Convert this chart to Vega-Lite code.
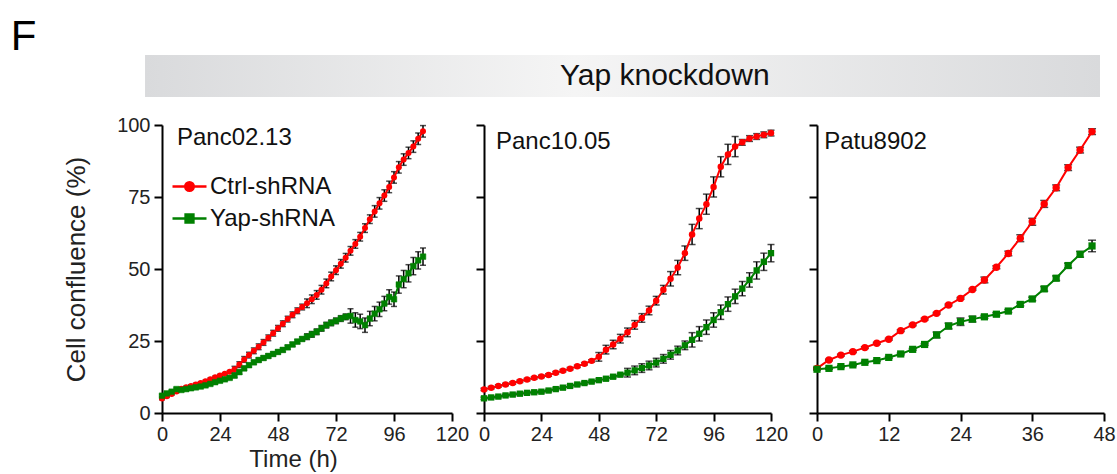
{
  "$schema": "https://vega.github.io/schema/vega-lite/v6.json",
  "background": "white",
  "padding": {"left": 10, "top": 16, "right": 2, "bottom": 1},
  "title": {"text": "F", "anchor": "start", "frame": "bounds", "fontSize": 42, "font": "Liberation Sans", "fontWeight": "normal", "color": "#000", "baseline": "alphabetic", "offset": -37, "dx": -53},
  "config": {
    "view": {"stroke": null},
    "font": "Liberation Sans",
    "axis": {"grid": false, "domainColor": "#000", "domainWidth": 2, "tickColor": "#000", "tickWidth": 2, "tickSize": 8, "labelFont": "Liberation Sans", "labelFontSize": 20, "labelColor": "#222", "labelFlush": false, "labelOverlap": false, "titleFont": "Liberation Sans", "titleFontSize": 26, "titleFontWeight": "normal", "titleColor": "#222"},
    "axisX": {"labelPadding": 3, "titlePadding": 3, "titleFontSize": 24},
    "axisY": {"labelPadding": 4, "titlePadding": 27}
  },
  "datasets": {
    "growth": [
      {"p":"A","g":"Ctrl-shRNA","t":0,"v":5.0,"e":0.4},{"p":"A","g":"Ctrl-shRNA","t":2,"v":5.8,"e":0.4},{"p":"A","g":"Ctrl-shRNA","t":4,"v":6.6,"e":0.4},{"p":"A","g":"Ctrl-shRNA","t":6,"v":7.5,"e":0.4},{"p":"A","g":"Ctrl-shRNA","t":8,"v":8.4,"e":0.4},{"p":"A","g":"Ctrl-shRNA","t":10,"v":8.9,"e":0.4},{"p":"A","g":"Ctrl-shRNA","t":12,"v":9.4,"e":0.4},{"p":"A","g":"Ctrl-shRNA","t":14,"v":9.9,"e":0.4},{"p":"A","g":"Ctrl-shRNA","t":16,"v":10.4,"e":0.4},{"p":"A","g":"Ctrl-shRNA","t":18,"v":11.0,"e":0.4},{"p":"A","g":"Ctrl-shRNA","t":20,"v":11.7,"e":0.4},{"p":"A","g":"Ctrl-shRNA","t":22,"v":12.4,"e":0.4},{"p":"A","g":"Ctrl-shRNA","t":24,"v":13.0,"e":0.4},{"p":"A","g":"Ctrl-shRNA","t":26,"v":13.6,"e":0.4},{"p":"A","g":"Ctrl-shRNA","t":28,"v":14.3,"e":0.4},{"p":"A","g":"Ctrl-shRNA","t":30,"v":15.2,"e":1},{"p":"A","g":"Ctrl-shRNA","t":32,"v":16.8,"e":1},{"p":"A","g":"Ctrl-shRNA","t":34,"v":18.6,"e":1},{"p":"A","g":"Ctrl-shRNA","t":36,"v":20.1,"e":1},{"p":"A","g":"Ctrl-shRNA","t":38,"v":21.6,"e":1},{"p":"A","g":"Ctrl-shRNA","t":40,"v":23.0,"e":1},{"p":"A","g":"Ctrl-shRNA","t":42,"v":24.5,"e":1},{"p":"A","g":"Ctrl-shRNA","t":44,"v":26.1,"e":1},{"p":"A","g":"Ctrl-shRNA","t":46,"v":27.7,"e":1},{"p":"A","g":"Ctrl-shRNA","t":48,"v":29.4,"e":1},{"p":"A","g":"Ctrl-shRNA","t":50,"v":31.0,"e":1},{"p":"A","g":"Ctrl-shRNA","t":52,"v":32.6,"e":1},{"p":"A","g":"Ctrl-shRNA","t":54,"v":34.1,"e":1},{"p":"A","g":"Ctrl-shRNA","t":56,"v":35.5,"e":1},{"p":"A","g":"Ctrl-shRNA","t":58,"v":36.8,"e":1},{"p":"A","g":"Ctrl-shRNA","t":60,"v":38.1,"e":1.5},{"p":"A","g":"Ctrl-shRNA","t":62,"v":39.5,"e":1.5},{"p":"A","g":"Ctrl-shRNA","t":64,"v":41.0,"e":1.5},{"p":"A","g":"Ctrl-shRNA","t":66,"v":42.8,"e":1.5},{"p":"A","g":"Ctrl-shRNA","t":68,"v":45.0,"e":1.5},{"p":"A","g":"Ctrl-shRNA","t":70,"v":47.4,"e":1.5},{"p":"A","g":"Ctrl-shRNA","t":72,"v":49.6,"e":1.5},{"p":"A","g":"Ctrl-shRNA","t":74,"v":51.8,"e":1.5},{"p":"A","g":"Ctrl-shRNA","t":76,"v":53.9,"e":1.5},{"p":"A","g":"Ctrl-shRNA","t":78,"v":56.3,"e":1.5},{"p":"A","g":"Ctrl-shRNA","t":80,"v":58.7,"e":1.5},{"p":"A","g":"Ctrl-shRNA","t":82,"v":61.2,"e":1.5},{"p":"A","g":"Ctrl-shRNA","t":84,"v":64.2,"e":1.5},{"p":"A","g":"Ctrl-shRNA","t":86,"v":67.3,"e":1.5},{"p":"A","g":"Ctrl-shRNA","t":88,"v":70.0,"e":2},{"p":"A","g":"Ctrl-shRNA","t":90,"v":72.8,"e":2},{"p":"A","g":"Ctrl-shRNA","t":92,"v":75.5,"e":2},{"p":"A","g":"Ctrl-shRNA","t":94,"v":78.5,"e":2},{"p":"A","g":"Ctrl-shRNA","t":96,"v":81.8,"e":2},{"p":"A","g":"Ctrl-shRNA","t":98,"v":85.3,"e":2},{"p":"A","g":"Ctrl-shRNA","t":100,"v":88.0,"e":2},{"p":"A","g":"Ctrl-shRNA","t":102,"v":90.3,"e":2},{"p":"A","g":"Ctrl-shRNA","t":104,"v":92.5,"e":2},{"p":"A","g":"Ctrl-shRNA","t":106,"v":95.2,"e":2},{"p":"A","g":"Ctrl-shRNA","t":108,"v":97.8,"e":2},
      {"p":"A","g":"Yap-shRNA","t":0,"v":6.0,"e":0.4},{"p":"A","g":"Yap-shRNA","t":2,"v":6.8,"e":0.4},{"p":"A","g":"Yap-shRNA","t":4,"v":7.4,"e":0.4},{"p":"A","g":"Yap-shRNA","t":6,"v":8.3,"e":0.4},{"p":"A","g":"Yap-shRNA","t":8,"v":8.0,"e":0.4},{"p":"A","g":"Yap-shRNA","t":10,"v":8.3,"e":0.4},{"p":"A","g":"Yap-shRNA","t":12,"v":8.6,"e":0.4},{"p":"A","g":"Yap-shRNA","t":14,"v":8.9,"e":0.4},{"p":"A","g":"Yap-shRNA","t":16,"v":9.2,"e":0.4},{"p":"A","g":"Yap-shRNA","t":18,"v":9.6,"e":0.4},{"p":"A","g":"Yap-shRNA","t":20,"v":10.1,"e":0.4},{"p":"A","g":"Yap-shRNA","t":22,"v":10.7,"e":0.4},{"p":"A","g":"Yap-shRNA","t":24,"v":11.2,"e":0.4},{"p":"A","g":"Yap-shRNA","t":26,"v":11.7,"e":0.4},{"p":"A","g":"Yap-shRNA","t":28,"v":12.2,"e":0.4},{"p":"A","g":"Yap-shRNA","t":30,"v":13.0,"e":0.7},{"p":"A","g":"Yap-shRNA","t":32,"v":14.2,"e":0.7},{"p":"A","g":"Yap-shRNA","t":34,"v":15.5,"e":0.7},{"p":"A","g":"Yap-shRNA","t":36,"v":16.6,"e":0.7},{"p":"A","g":"Yap-shRNA","t":38,"v":17.6,"e":0.7},{"p":"A","g":"Yap-shRNA","t":40,"v":18.4,"e":0.7},{"p":"A","g":"Yap-shRNA","t":42,"v":19.1,"e":0.7},{"p":"A","g":"Yap-shRNA","t":44,"v":19.8,"e":0.7},{"p":"A","g":"Yap-shRNA","t":46,"v":20.5,"e":0.7},{"p":"A","g":"Yap-shRNA","t":48,"v":21.2,"e":0.7},{"p":"A","g":"Yap-shRNA","t":50,"v":21.9,"e":0.7},{"p":"A","g":"Yap-shRNA","t":52,"v":22.8,"e":0.7},{"p":"A","g":"Yap-shRNA","t":54,"v":23.8,"e":0.7},{"p":"A","g":"Yap-shRNA","t":56,"v":24.8,"e":0.7},{"p":"A","g":"Yap-shRNA","t":58,"v":25.7,"e":0.7},{"p":"A","g":"Yap-shRNA","t":60,"v":26.5,"e":1},{"p":"A","g":"Yap-shRNA","t":62,"v":27.3,"e":1},{"p":"A","g":"Yap-shRNA","t":64,"v":28.2,"e":1},{"p":"A","g":"Yap-shRNA","t":66,"v":29.4,"e":1},{"p":"A","g":"Yap-shRNA","t":68,"v":30.5,"e":1},{"p":"A","g":"Yap-shRNA","t":70,"v":31.3,"e":1},{"p":"A","g":"Yap-shRNA","t":72,"v":32.0,"e":1},{"p":"A","g":"Yap-shRNA","t":74,"v":32.8,"e":1},{"p":"A","g":"Yap-shRNA","t":76,"v":33.4,"e":1},{"p":"A","g":"Yap-shRNA","t":78,"v":33.7,"e":2.5},{"p":"A","g":"Yap-shRNA","t":80,"v":32.3,"e":2.5},{"p":"A","g":"Yap-shRNA","t":82,"v":31.8,"e":2.5},{"p":"A","g":"Yap-shRNA","t":84,"v":30.5,"e":2.5},{"p":"A","g":"Yap-shRNA","t":86,"v":32.8,"e":2.5},{"p":"A","g":"Yap-shRNA","t":88,"v":34.5,"e":2.5},{"p":"A","g":"Yap-shRNA","t":90,"v":36.0,"e":2.5},{"p":"A","g":"Yap-shRNA","t":92,"v":38.0,"e":2.5},{"p":"A","g":"Yap-shRNA","t":94,"v":40.3,"e":2.5},{"p":"A","g":"Yap-shRNA","t":96,"v":39.5,"e":2.5},{"p":"A","g":"Yap-shRNA","t":98,"v":44.6,"e":3},{"p":"A","g":"Yap-shRNA","t":100,"v":46.5,"e":3},{"p":"A","g":"Yap-shRNA","t":102,"v":48.5,"e":3},{"p":"A","g":"Yap-shRNA","t":104,"v":51.0,"e":3},{"p":"A","g":"Yap-shRNA","t":106,"v":53.0,"e":3},{"p":"A","g":"Yap-shRNA","t":108,"v":54.3,"e":3},
      {"p":"B","g":"Ctrl-shRNA","t":0,"v":8.2,"e":0.4},{"p":"B","g":"Ctrl-shRNA","t":3,"v":8.8,"e":0.4},{"p":"B","g":"Ctrl-shRNA","t":6,"v":9.4,"e":0.4},{"p":"B","g":"Ctrl-shRNA","t":9,"v":9.9,"e":0.4},{"p":"B","g":"Ctrl-shRNA","t":12,"v":10.4,"e":0.4},{"p":"B","g":"Ctrl-shRNA","t":15,"v":11.0,"e":0.4},{"p":"B","g":"Ctrl-shRNA","t":18,"v":11.6,"e":0.4},{"p":"B","g":"Ctrl-shRNA","t":21,"v":12.2,"e":0.4},{"p":"B","g":"Ctrl-shRNA","t":24,"v":12.7,"e":0.4},{"p":"B","g":"Ctrl-shRNA","t":27,"v":13.2,"e":0.4},{"p":"B","g":"Ctrl-shRNA","t":30,"v":14.0,"e":0.4},{"p":"B","g":"Ctrl-shRNA","t":33,"v":14.7,"e":0.4},{"p":"B","g":"Ctrl-shRNA","t":36,"v":15.4,"e":0.4},{"p":"B","g":"Ctrl-shRNA","t":39,"v":16.2,"e":0.4},{"p":"B","g":"Ctrl-shRNA","t":42,"v":17.1,"e":0.4},{"p":"B","g":"Ctrl-shRNA","t":45,"v":18.1,"e":0.4},{"p":"B","g":"Ctrl-shRNA","t":48,"v":19.5,"e":1.5},{"p":"B","g":"Ctrl-shRNA","t":51,"v":22.0,"e":1.5},{"p":"B","g":"Ctrl-shRNA","t":54,"v":23.8,"e":1.5},{"p":"B","g":"Ctrl-shRNA","t":57,"v":25.8,"e":1.5},{"p":"B","g":"Ctrl-shRNA","t":60,"v":28.0,"e":1.5},{"p":"B","g":"Ctrl-shRNA","t":63,"v":30.6,"e":1.5},{"p":"B","g":"Ctrl-shRNA","t":66,"v":33.0,"e":1.5},{"p":"B","g":"Ctrl-shRNA","t":69,"v":35.6,"e":1.5},{"p":"B","g":"Ctrl-shRNA","t":72,"v":39.0,"e":1.5},{"p":"B","g":"Ctrl-shRNA","t":75,"v":42.8,"e":1.5},{"p":"B","g":"Ctrl-shRNA","t":78,"v":46.6,"e":2.5},{"p":"B","g":"Ctrl-shRNA","t":81,"v":50.5,"e":2.5},{"p":"B","g":"Ctrl-shRNA","t":84,"v":55.5,"e":2.5},{"p":"B","g":"Ctrl-shRNA","t":87,"v":62.0,"e":3.5},{"p":"B","g":"Ctrl-shRNA","t":90,"v":67.5,"e":3.5},{"p":"B","g":"Ctrl-shRNA","t":93,"v":72.5,"e":3.5},{"p":"B","g":"Ctrl-shRNA","t":96,"v":78.5,"e":3.5},{"p":"B","g":"Ctrl-shRNA","t":99,"v":85.5,"e":3.5},{"p":"B","g":"Ctrl-shRNA","t":102,"v":89.8,"e":3.5},{"p":"B","g":"Ctrl-shRNA","t":105,"v":92.5,"e":3.5},{"p":"B","g":"Ctrl-shRNA","t":108,"v":94.0,"e":1},{"p":"B","g":"Ctrl-shRNA","t":111,"v":95.3,"e":1},{"p":"B","g":"Ctrl-shRNA","t":114,"v":96.0,"e":1},{"p":"B","g":"Ctrl-shRNA","t":117,"v":96.6,"e":1},{"p":"B","g":"Ctrl-shRNA","t":120,"v":97.2,"e":1},
      {"p":"B","g":"Yap-shRNA","t":0,"v":5.1,"e":0.4},{"p":"B","g":"Yap-shRNA","t":3,"v":5.4,"e":0.4},{"p":"B","g":"Yap-shRNA","t":6,"v":5.7,"e":0.4},{"p":"B","g":"Yap-shRNA","t":9,"v":6.1,"e":0.4},{"p":"B","g":"Yap-shRNA","t":12,"v":6.4,"e":0.4},{"p":"B","g":"Yap-shRNA","t":15,"v":6.7,"e":0.4},{"p":"B","g":"Yap-shRNA","t":18,"v":7.0,"e":0.4},{"p":"B","g":"Yap-shRNA","t":21,"v":7.2,"e":0.4},{"p":"B","g":"Yap-shRNA","t":24,"v":7.4,"e":0.4},{"p":"B","g":"Yap-shRNA","t":27,"v":7.8,"e":0.4},{"p":"B","g":"Yap-shRNA","t":30,"v":8.3,"e":0.4},{"p":"B","g":"Yap-shRNA","t":33,"v":8.8,"e":0.4},{"p":"B","g":"Yap-shRNA","t":36,"v":9.4,"e":0.4},{"p":"B","g":"Yap-shRNA","t":39,"v":9.9,"e":0.4},{"p":"B","g":"Yap-shRNA","t":42,"v":10.4,"e":0.4},{"p":"B","g":"Yap-shRNA","t":45,"v":10.9,"e":0.4},{"p":"B","g":"Yap-shRNA","t":48,"v":11.4,"e":0.4},{"p":"B","g":"Yap-shRNA","t":51,"v":11.9,"e":0.4},{"p":"B","g":"Yap-shRNA","t":54,"v":12.6,"e":0.4},{"p":"B","g":"Yap-shRNA","t":57,"v":13.3,"e":0.4},{"p":"B","g":"Yap-shRNA","t":60,"v":14.0,"e":1.5},{"p":"B","g":"Yap-shRNA","t":63,"v":14.8,"e":1.5},{"p":"B","g":"Yap-shRNA","t":66,"v":15.6,"e":1.5},{"p":"B","g":"Yap-shRNA","t":69,"v":16.5,"e":1.5},{"p":"B","g":"Yap-shRNA","t":72,"v":17.5,"e":1.5},{"p":"B","g":"Yap-shRNA","t":75,"v":18.8,"e":1.5},{"p":"B","g":"Yap-shRNA","t":78,"v":20.2,"e":1.5},{"p":"B","g":"Yap-shRNA","t":81,"v":21.7,"e":1.5},{"p":"B","g":"Yap-shRNA","t":84,"v":23.5,"e":1.5},{"p":"B","g":"Yap-shRNA","t":87,"v":25.4,"e":2.5},{"p":"B","g":"Yap-shRNA","t":90,"v":27.5,"e":2.5},{"p":"B","g":"Yap-shRNA","t":93,"v":29.8,"e":2.5},{"p":"B","g":"Yap-shRNA","t":96,"v":32.3,"e":2.5},{"p":"B","g":"Yap-shRNA","t":99,"v":35.0,"e":2.5},{"p":"B","g":"Yap-shRNA","t":102,"v":37.8,"e":2.5},{"p":"B","g":"Yap-shRNA","t":105,"v":40.5,"e":2.5},{"p":"B","g":"Yap-shRNA","t":108,"v":43.2,"e":2.5},{"p":"B","g":"Yap-shRNA","t":111,"v":46.2,"e":2.5},{"p":"B","g":"Yap-shRNA","t":114,"v":49.5,"e":3},{"p":"B","g":"Yap-shRNA","t":117,"v":52.5,"e":3},{"p":"B","g":"Yap-shRNA","t":120,"v":55.5,"e":3},
      {"p":"C","g":"Ctrl-shRNA","t":0,"v":15.5,"e":0.3},{"p":"C","g":"Ctrl-shRNA","t":2,"v":18.4,"e":0.3},{"p":"C","g":"Ctrl-shRNA","t":4,"v":20.1,"e":0.3},{"p":"C","g":"Ctrl-shRNA","t":6,"v":21.3,"e":0.3},{"p":"C","g":"Ctrl-shRNA","t":8,"v":22.7,"e":0.3},{"p":"C","g":"Ctrl-shRNA","t":10,"v":24.2,"e":0.3},{"p":"C","g":"Ctrl-shRNA","t":12,"v":25.6,"e":0.3},{"p":"C","g":"Ctrl-shRNA","t":14,"v":28.6,"e":0.3},{"p":"C","g":"Ctrl-shRNA","t":16,"v":30.6,"e":0.3},{"p":"C","g":"Ctrl-shRNA","t":18,"v":32.6,"e":0.3},{"p":"C","g":"Ctrl-shRNA","t":20,"v":34.6,"e":0.3},{"p":"C","g":"Ctrl-shRNA","t":22,"v":37.5,"e":0.3},{"p":"C","g":"Ctrl-shRNA","t":24,"v":39.8,"e":0.3},{"p":"C","g":"Ctrl-shRNA","t":26,"v":42.9,"e":0.3},{"p":"C","g":"Ctrl-shRNA","t":28,"v":46.2,"e":1},{"p":"C","g":"Ctrl-shRNA","t":30,"v":50.6,"e":0.5},{"p":"C","g":"Ctrl-shRNA","t":32,"v":55.4,"e":0.8},{"p":"C","g":"Ctrl-shRNA","t":34,"v":60.7,"e":1.2},{"p":"C","g":"Ctrl-shRNA","t":36,"v":66.4,"e":1.2},{"p":"C","g":"Ctrl-shRNA","t":38,"v":72.6,"e":1.2},{"p":"C","g":"Ctrl-shRNA","t":40,"v":78.2,"e":1},{"p":"C","g":"Ctrl-shRNA","t":42,"v":85.2,"e":1},{"p":"C","g":"Ctrl-shRNA","t":44,"v":91.3,"e":1},{"p":"C","g":"Ctrl-shRNA","t":46,"v":97.7,"e":1},
      {"p":"C","g":"Yap-shRNA","t":0,"v":15.2,"e":0.3},{"p":"C","g":"Yap-shRNA","t":2,"v":15.5,"e":0.3},{"p":"C","g":"Yap-shRNA","t":4,"v":16.1,"e":0.3},{"p":"C","g":"Yap-shRNA","t":6,"v":16.7,"e":0.3},{"p":"C","g":"Yap-shRNA","t":8,"v":17.6,"e":0.3},{"p":"C","g":"Yap-shRNA","t":10,"v":18.2,"e":0.3},{"p":"C","g":"Yap-shRNA","t":12,"v":19.3,"e":0.3},{"p":"C","g":"Yap-shRNA","t":14,"v":20.5,"e":0.3},{"p":"C","g":"Yap-shRNA","t":16,"v":22.1,"e":0.3},{"p":"C","g":"Yap-shRNA","t":18,"v":23.8,"e":0.3},{"p":"C","g":"Yap-shRNA","t":20,"v":27.1,"e":1},{"p":"C","g":"Yap-shRNA","t":22,"v":30.2,"e":1},{"p":"C","g":"Yap-shRNA","t":24,"v":31.7,"e":1.3},{"p":"C","g":"Yap-shRNA","t":26,"v":32.6,"e":1},{"p":"C","g":"Yap-shRNA","t":28,"v":33.4,"e":0.5},{"p":"C","g":"Yap-shRNA","t":30,"v":34.3,"e":0.5},{"p":"C","g":"Yap-shRNA","t":32,"v":35.4,"e":0.5},{"p":"C","g":"Yap-shRNA","t":34,"v":37.7,"e":0.5},{"p":"C","g":"Yap-shRNA","t":36,"v":39.6,"e":0.6},{"p":"C","g":"Yap-shRNA","t":38,"v":43.1,"e":0.8},{"p":"C","g":"Yap-shRNA","t":40,"v":46.8,"e":0.8},{"p":"C","g":"Yap-shRNA","t":42,"v":51.2,"e":0.8},{"p":"C","g":"Yap-shRNA","t":44,"v":55.1,"e":1},{"p":"C","g":"Yap-shRNA","t":46,"v":58.0,"e":2}
    ]
  },
  "spacing": 18,
  "resolve": {"scale": {"color": "independent", "fill": "independent", "stroke": "independent"}},
  "vconcat": [
    {
      "width": 938,
      "height": 42,
      "data": {"values": [{"label": "Yap knockdown"}]},
      "layer": [
        {
          "mark": {"type": "rect", "fill": {"gradient": "linear", "x1": 0, "x2": 1, "y1": 0, "y2": 0, "stops": [{"offset": 0, "color": "#d9dadc"}, {"offset": 0.45, "color": "#f5f5f5"}, {"offset": 1, "color": "#d9dadc"}]}},
          "encoding": {
            "x": {"datum": -0.0181, "type": "quantitative", "scale": {"domain": [0, 1], "nice": false, "zero": false}, "axis": null},
            "x2": {"datum": 1},
            "y": {"datum": 0, "type": "quantitative", "scale": {"domain": [0, 1], "nice": false}, "axis": null},
            "y2": {"datum": 1}
          }
        },
        {
          "mark": {"type": "text", "fontSize": 30, "font": "Liberation Sans", "color": "#111", "align": "center", "baseline": "middle"},
          "encoding": {
            "text": {"field": "label"},
            "x": {"datum": 0.536, "type": "quantitative"},
            "y": {"datum": 0.5, "type": "quantitative"}
          }
        }
      ]
    },
    {
      "spacing": 6,
      "resolve": {"scale": {"color": "independent", "fill": "independent", "stroke": "independent"}},
      "hconcat": [
        {
          "width": 290,
          "height": 288,
          "data": {"name": "growth"},
          "layer": [
            {
              "transform": [{"filter": "datum.p === 'A'"}],
              "encoding": {
                "x": {"field": "t", "type": "quantitative", "title": "Time (h)", "scale": {"domain": [0, 120], "nice": false}, "axis": {"values": [0, 24, 48, 72, 96, 120], "title": "Time (h)", "titleX": 131, "titleAlign": "center"}},
                "y": {"field": "v", "type": "quantitative", "title": "Cell confluence (%)", "scale": {"domain": [0, 100], "nice": false}, "axis": {"values": [0, 25, 50, 75, 100], "title": "Cell confluence (%)"}}
              },
              "layer": [
                {"mark": {"type": "errorbar", "color": "#000", "ticks": {"size": 6, "thickness": 1.5, "color": "#000"}, "rule": {"strokeWidth": 1.5, "color": "#000"}}, "encoding": {"yError": {"field": "e"}}},
                {"mark": {"type": "line", "strokeWidth": 2}, "encoding": {"color": {"field": "g", "type": "nominal", "scale": {"domain": ["Ctrl-shRNA", "Yap-shRNA"], "range": ["#ff0000", "#008000"]}, "legend": null}}},
                {"transform": [{"filter": "datum.g === 'Ctrl-shRNA'"}], "mark": {"type": "point", "shape": "circle", "filled": true, "opacity": 1, "size": 36},
                  "encoding": {"fill": {"field": "g", "type": "nominal", "scale": {"domain": ["Ctrl-shRNA"], "range": ["#ff0000"]},
                    "legend": {"orient": "none", "legendX": 9, "legendY": 43, "title": null, "padding": 0, "symbolType": "M-1,0H1M-0.25,0A0.25,0.25 0 1,0 0.25,0A0.25,0.25 0 1,0 -0.25,0Z", "symbolSize": 1156, "symbolStrokeColor": "#ff0000", "symbolStrokeWidth": 2.5, "symbolOpacity": 1, "labelFont": "Liberation Sans", "labelFontSize": 24, "labelColor": "#111", "labelOffset": 2}}}},
                {"transform": [{"filter": "datum.g === 'Yap-shRNA'"}], "mark": {"type": "point", "shape": "square", "filled": true, "fill": "#008000", "strokeWidth": 0.5, "opacity": 1, "size": 32},
                  "encoding": {"stroke": {"field": "g", "type": "nominal", "scale": {"domain": ["Yap-shRNA"], "range": ["#008000"]},
                    "legend": {"orient": "none", "legendX": 9, "legendY": 75, "title": null, "padding": 0, "symbolType": "M-1,0H1M-0.23,-0.23H0.23V0.23H-0.23Z", "symbolSize": 1156, "symbolFillColor": "#008000", "symbolStrokeWidth": 2.5, "symbolOpacity": 1, "labelFont": "Liberation Sans", "labelFontSize": 24, "labelColor": "#111", "labelOffset": 2}}}}
              ]
            },
            {"data": {"values": [{"name": "Panc02.13"}]}, "mark": {"type": "text", "align": "left", "baseline": "alphabetic", "fontSize": 24, "font": "Liberation Sans", "color": "#111"},
              "encoding": {"text": {"field": "name"}, "x": {"datum": 6.2, "type": "quantitative", "title": "Time (h)"}, "y": {"datum": 93.1, "type": "quantitative", "title": "Cell confluence (%)"}}}
          ]
        },
        {
          "width": 287,
          "height": 288,
          "data": {"name": "growth"},
          "layer": [
            {
              "transform": [{"filter": "datum.p === 'B'"}],
              "encoding": {
                "x": {"field": "t", "type": "quantitative", "title": null, "scale": {"domain": [0, 120], "nice": false}, "axis": {"values": [0, 24, 48, 72, 96, 120], "title": null}},
                "y": {"field": "v", "type": "quantitative", "title": null, "scale": {"domain": [0, 100], "nice": false}, "axis": {"values": [0, 25, 50, 75, 100], "labels": false, "title": null}}
              },
              "layer": [
                {"mark": {"type": "errorbar", "color": "#000", "ticks": {"size": 7, "thickness": 1.5, "color": "#000"}, "rule": {"strokeWidth": 1.5, "color": "#000"}}, "encoding": {"yError": {"field": "e"}}},
                {"mark": {"type": "line", "strokeWidth": 2}, "encoding": {"color": {"field": "g", "type": "nominal", "scale": {"domain": ["Ctrl-shRNA", "Yap-shRNA"], "range": ["#ff0000", "#008000"]}, "legend": null}}},
                {"transform": [{"filter": "datum.g === 'Ctrl-shRNA'"}], "mark": {"type": "point", "shape": "circle", "filled": true, "opacity": 1, "size": 42, "color": "#ff0000"}},
                {"transform": [{"filter": "datum.g === 'Yap-shRNA'"}], "mark": {"type": "point", "shape": "square", "filled": true, "opacity": 1, "size": 40, "color": "#008000"}}
              ]
            },
            {"data": {"values": [{"name": "Panc10.05"}]}, "mark": {"type": "text", "align": "left", "baseline": "alphabetic", "fontSize": 24, "font": "Liberation Sans", "color": "#111"},
              "encoding": {"text": {"field": "name"}, "x": {"datum": 5.0, "type": "quantitative", "title": null}, "y": {"datum": 91.6, "type": "quantitative", "title": null}}}
          ]
        },
        {
          "width": 287,
          "height": 288,
          "data": {"name": "growth"},
          "layer": [
            {
              "transform": [{"filter": "datum.p === 'C'"}],
              "encoding": {
                "x": {"field": "t", "type": "quantitative", "title": null, "scale": {"domain": [0, 48], "nice": false}, "axis": {"values": [0, 12, 24, 36, 48], "title": null}},
                "y": {"field": "v", "type": "quantitative", "title": null, "scale": {"domain": [0, 100], "nice": false}, "axis": {"values": [0, 25, 50, 75, 100], "labels": false, "title": null, "minExtent": 23}}
              },
              "layer": [
                {"mark": {"type": "errorbar", "color": "#000", "ticks": {"size": 8, "thickness": 1.5, "color": "#000"}, "rule": {"strokeWidth": 1.5, "color": "#000"}}, "encoding": {"yError": {"field": "e"}}},
                {"mark": {"type": "line", "strokeWidth": 2}, "encoding": {"color": {"field": "g", "type": "nominal", "scale": {"domain": ["Ctrl-shRNA", "Yap-shRNA"], "range": ["#ff0000", "#008000"]}, "legend": null}}},
                {"transform": [{"filter": "datum.g === 'Ctrl-shRNA'"}], "mark": {"type": "point", "shape": "circle", "filled": true, "opacity": 1, "size": 55, "color": "#ff0000"}},
                {"transform": [{"filter": "datum.g === 'Yap-shRNA'"}], "mark": {"type": "point", "shape": "square", "filled": true, "opacity": 1, "size": 52, "color": "#008000"}}
              ]
            },
            {"data": {"values": [{"name": "Patu8902"}]}, "mark": {"type": "text", "align": "left", "baseline": "alphabetic", "fontSize": 24, "font": "Liberation Sans", "color": "#111"},
              "encoding": {"text": {"field": "name"}, "x": {"datum": 1.2, "type": "quantitative", "title": null}, "y": {"datum": 91.6, "type": "quantitative", "title": null}}}
          ]
        }
      ]
    }
  ]
}
